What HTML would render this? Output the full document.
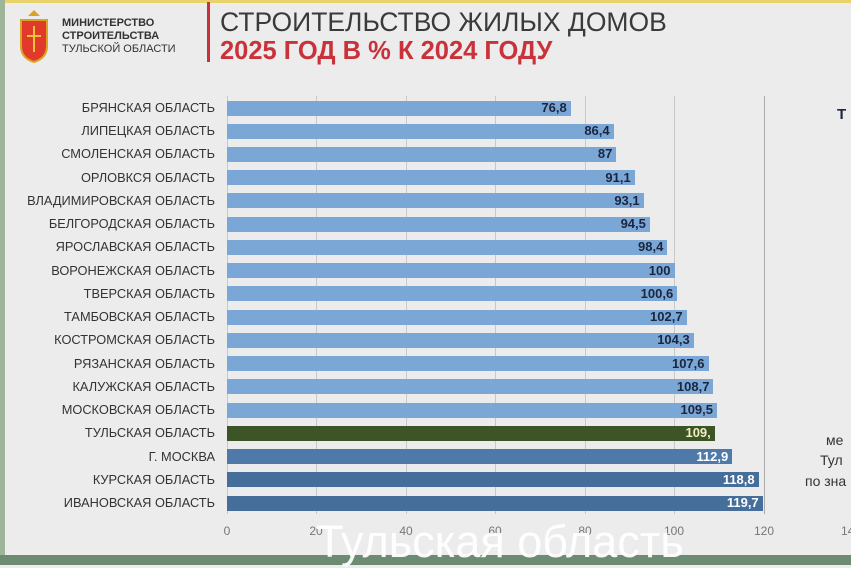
<!DOCTYPE html>
<html><head><meta charset="utf-8"><style>
body{margin:0;width:851px;height:565px;overflow:hidden;background:#ececec;font-family:"Liberation Sans","DejaVu Sans",sans-serif;position:relative}
.lbl{position:absolute;right:636px;font-size:12.8px;color:#333;text-align:right;white-space:nowrap}
.bar{position:absolute;left:227px;height:15px}
.val{position:absolute;font-size:13px;font-weight:bold;color:#1a2540}
.g{position:absolute;top:96px;height:418px;width:1px;background:#c8c8c8}
.t{position:absolute;top:524px;font-size:12px;color:#777;transform:translateX(-50%)}
</style></head><body>
<div style="position:absolute;left:0;top:0;width:851px;height:3px;background:#e8d36a"></div>
<div style="position:absolute;left:0;top:0;width:5px;height:565px;background:#9fb59a"></div>
<div style="position:absolute;left:0;top:555px;width:851px;height:10px;background:#6d8a72"></div>
<svg style="position:absolute;left:17px;top:8px" width="34" height="56"><path d="M17 2 l6 6 h-12z" fill="#d9a323"/><path d="M4 12 h26 v26 q0 12 -13 16 q-13 -4 -13 -16z" fill="#e23a2a" stroke="#d9a323" stroke-width="2"/><path d="M17 18 v26 M10 28 h14" stroke="#f2c23a" stroke-width="2"/></svg>
<div style="position:absolute;left:62px;top:17px;font-size:11px;line-height:13px;color:#333"><b>МИНИСТЕРСТВО<br>СТРОИТЕЛЬСТВА</b><br>ТУЛЬСКОЙ ОБЛАСТИ</div>
<div style="position:absolute;left:207px;top:2px;width:3px;height:60px;background:#c9323a"></div>
<div style="position:absolute;left:220px;top:7px;font-size:26.5px;color:#3a3a3a;white-space:nowrap">СТРОИТЕЛЬСТВО ЖИЛЫХ ДОМОВ</div>
<div style="position:absolute;left:220px;top:37px;font-size:25.5px;font-weight:bold;color:#c9323a;white-space:nowrap">2025 ГОД В % К 2024 ГОДУ</div>
<div class="g" style="left:227px"></div><div class="g" style="left:316px"></div><div class="g" style="left:406px"></div><div class="g" style="left:495px"></div><div class="g" style="left:585px"></div><div class="g" style="left:674px"></div><div class="g" style="left:764px;background:#aaa"></div>
<div class="t" style="left:227px">0</div><div class="t" style="left:316px">20</div><div class="t" style="left:406px">40</div><div class="t" style="left:495px">60</div><div class="t" style="left:585px">80</div><div class="t" style="left:674px">100</div><div class="t" style="left:764px">120</div><div class="t" style="left:851px">140</div>
<div id="c"></div>
<div style="position:absolute;left:837px;top:106px;font-size:15px;font-weight:bold;color:#1a2540">Т</div>
<div style="position:absolute;left:826px;top:432px;font-size:14px;color:#333">ме</div>
<div style="position:absolute;left:820px;top:452px;font-size:14px;color:#333">Тул</div>
<div style="position:absolute;left:805px;top:473px;font-size:14px;color:#333;white-space:nowrap">по зна</div>
<div style="position:absolute;left:316px;top:516px;font-size:45px;color:#fff;white-space:nowrap;opacity:.95">Тульская область</div>
<script>
var d=[["БРЯНСКАЯ ОБЛАСТЬ",76.8],["ЛИПЕЦКАЯ ОБЛАСТЬ",86.4],["СМОЛЕНСКАЯ ОБЛАСТЬ",87],["ОРЛОВКСЯ ОБЛАСТЬ",91.1],["ВЛАДИМИРОВСКАЯ ОБЛАСТЬ",93.1],["БЕЛГОРОДСКАЯ ОБЛАСТЬ",94.5],["ЯРОСЛАВСКАЯ ОБЛАСТЬ",98.4],["ВОРОНЕЖСКАЯ ОБЛАСТЬ",100],["ТВЕРСКАЯ ОБЛАСТЬ",100.6],["ТАМБОВСКАЯ ОБЛАСТЬ",102.7],["КОСТРОМСКАЯ ОБЛАСТЬ",104.3],["РЯЗАНСКАЯ ОБЛАСТЬ",107.6],["КАЛУЖСКАЯ ОБЛАСТЬ",108.7],["МОСКОВСКАЯ ОБЛАСТЬ",109.5],["ТУЛЬСКАЯ ОБЛАСТЬ",109],["Г. МОСКВА",112.9],["КУРСКАЯ ОБЛАСТЬ",118.8],["ИВАНОВСКАЯ ОБЛАСТЬ",119.7]];
var h="";d.forEach(function(r,i){var y=108+i*23.24,w=r[1]*4.475;var col=i<14?"#7ba7d7":i==14?"#3d5526":i==15?"#4f79a8":"#466e9b";var tc=i<14?"#1a2540":i==14?"#f2eec0":"#fff";var s=(r[1]+"").replace(".",",");if(i==14)s="109,";
h+='<div class="lbl" style="top:'+(y-8)+'px">'+r[0]+'</div><div class="bar" style="top:'+(y-7.5)+'px;width:'+w+'px;background:'+col+'"></div><div class="val" style="top:'+(y-8)+'px;right:'+(851-227-w+4)+'px;color:'+tc+'">'+s+'</div>';});
document.getElementById("c").innerHTML=h;
</script>
</body></html>
